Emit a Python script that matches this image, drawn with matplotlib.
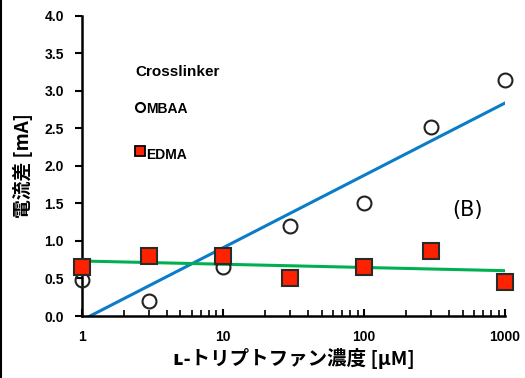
import numpy as np
import matplotlib
matplotlib.use('Agg')
import matplotlib.pyplot as plt
from matplotlib.ticker import FixedLocator, LogLocator, NullFormatter

plt.rcParams['font.family'] = ['Liberation Sans', 'Noto Sans CJK JP', 'DejaVu Sans']

# L-Trp concentration (uM) and current difference (mA)
conc = [1, 3, 10, 30, 100, 300, 1000]
mbaa = [0.48, 0.20, 0.65, 1.20, 1.50, 2.52, 3.15]
edma = [0.65, 0.80, 0.80, 0.50, 0.65, 0.87, 0.45]

# log trendlines: y = slope * log10(x) + intercept
mbaa_fit = (0.965, -0.056)
edma_fit = (-0.043, 0.733)

fig = plt.figure(figsize=(5.25, 3.78), dpi=100)
ax = fig.add_axes([0.156, 0.164, 0.806, 0.794])

xs = np.logspace(0, 3, 200)
ax.plot(xs, mbaa_fit[0] * np.log10(xs) + mbaa_fit[1], color='#0A7CC8', lw=2.2, zorder=2)
ax.plot(xs, edma_fit[0] * np.log10(xs) + edma_fit[1], color='#00B050', lw=2.2, zorder=2)

ax.plot(conc, mbaa, 'o', ms=10, mfc='none', mec='#222222', mew=1.5, zorder=3, clip_on=False)
ax.plot(conc, edma, 's', ms=11, mfc='#FF2200', mec='#2a2a2a', mew=1.5, zorder=4, clip_on=False)

ax.set_xscale('log')
ax.set_xlim(1, 1000)
ax.set_ylim(0, 4.0)
ax.yaxis.set_major_locator(FixedLocator(np.arange(0, 4.01, 0.5)))
ax.set_yticklabels([f'{v:.1f}' for v in np.arange(0, 4.01, 0.5)])
ax.xaxis.set_major_locator(FixedLocator([1, 10, 100, 1000]))
ax.set_xticklabels(['1', '10', '100', '1000'])
ax.xaxis.set_minor_locator(LogLocator(base=10, subs=np.arange(2, 10)))
ax.xaxis.set_minor_formatter(NullFormatter())

for s in ['top', 'right']:
    ax.spines[s].set_visible(False)
for s in ['left', 'bottom']:
    ax.spines[s].set_linewidth(1.8)

ax.tick_params(axis='y', direction='out', length=5, width=1.5, labelsize=10, pad=8)
ax.tick_params(axis='x', which='major', direction='in', length=5, width=1.5, labelsize=10, pad=10)
ax.tick_params(axis='x', which='minor', direction='in', length=4, width=1.2)
for lab in ax.get_xticklabels() + ax.get_yticklabels():
    lab.set_fontweight('bold')

ax.set_ylabel('電流差 [mA]', fontsize=13.5, fontweight='bold',
              family=['Noto Sans CJK JP', 'DejaVu Sans'], labelpad=8)
ax.set_xlabel('ʟ-トリプトファン濃度 [μM]', fontsize=14, fontweight='bold',
              family=['Noto Sans CJK JP', 'DejaVu Sans'], labelpad=3)

# hand-placed legend
fig.text(135 / 525, 1 - 72 / 378, 'Crosslinker', fontsize=11, fontweight='bold', va='center')
fig.lines.append(plt.Line2D([140 / 525], [1 - 107 / 378], marker='o', ms=6.5, mfc='white',
                            mec='black', mew=1.5, transform=fig.transFigure))
fig.text(146 / 525, 1 - 109 / 378, 'MBAA', fontsize=10, fontweight='bold', va='center')
fig.lines.append(plt.Line2D([140 / 525], [1 - 151 / 378], marker='s', ms=6.5, mfc='#FF2200',
                            mec='black', mew=1.3, transform=fig.transFigure))
fig.text(146 / 525, 1 - 155 / 378, 'EDMA', fontsize=10, fontweight='bold', va='center')

fig.text(468 / 525, 1 - 210 / 378, '(B)', fontsize=15, ha='center', va='center',
         family=['DejaVu Sans'])

# thin frame line on the left edge
fig.lines.append(plt.Line2D([0.001, 0.001], [0, 1], color='black', lw=1.5, transform=fig.transFigure))

fig.savefig('out.png', dpi=100, facecolor='white')
